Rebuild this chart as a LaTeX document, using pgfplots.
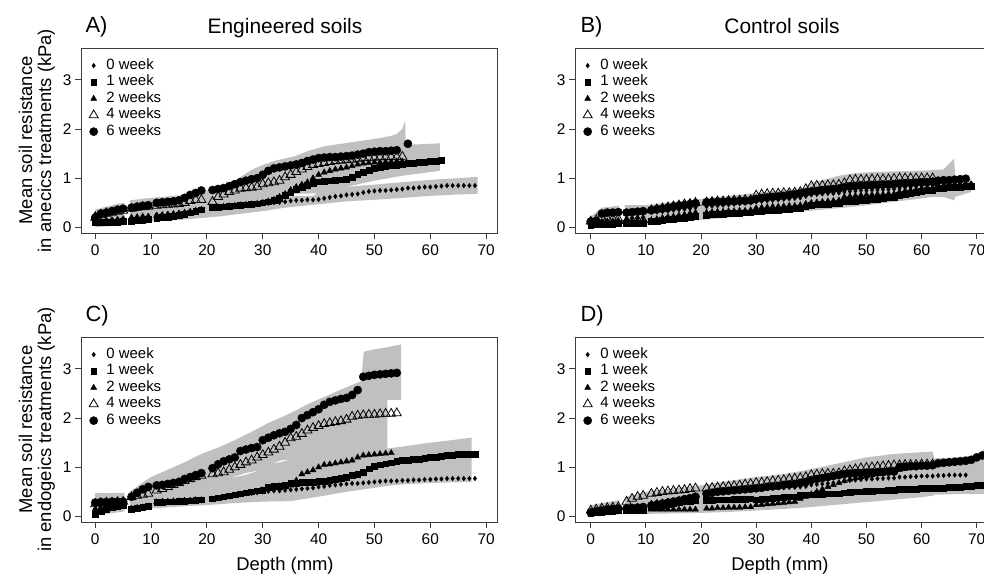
\documentclass[border=0pt]{standalone}
\usepackage{fontspec}
\setmainfont{Liberation Sans}
\usepackage{pgfplots}
\pgfplotsset{compat=1.18}
\usepackage{pgfplotstable}
\definecolor{band}{RGB}{192,192,192}
\definecolor{axcol}{RGB}{60,60,60}

\pgfplotstableread{
x w0 w1 w2 w4 w6
0 0.15 0.10 0.25 0.20 0.20
1 0.15 0.10 0.30 0.25 0.28
2 0.16 0.10 0.33 0.28 0.30
3 0.17 0.11 0.34 0.30 0.33
4 0.18 0.11 0.35 0.32 0.36
5 0.19 0.12 0.36 0.34 0.38
6.5 0.20 0.12 0.20 0.38 0.40
7.5 0.21 0.14 0.21 0.40 0.42
8.5 0.22 0.15 0.22 0.41 0.44
9.5 0.23 0.16 0.22 0.42 0.45
11 0.26 0.19 0.24 0.44 0.50
12 0.27 0.20 0.25 0.45 0.51
13 0.28 0.21 0.26 0.46 0.52
14 0.29 0.22 0.27 0.47 0.53
15 0.30 0.24 0.28 0.48 0.55
16 0.31 0.26 0.30 0.50 0.60
17 0.32 0.30 0.32 0.54 0.66
18 0.33 0.33 0.34 0.56 0.70
19 0.34 0.36 0.36 0.56 0.75
21 0.38 0.40 0.40 0.52 0.76
22 0.39 0.41 0.41 0.62 0.78
23 0.40 0.42 0.42 0.67 0.80
24 0.41 0.43 0.43 0.72 0.84
25 0.42 0.44 0.44 0.75 0.88
26 0.44 0.45 0.45 0.79 0.92
27 0.45 0.46 0.46 0.80 0.95
28 0.46 0.47 0.47 0.81 0.98
29 0.47 0.48 0.48 0.83 1.00
30 0.48 0.50 0.50 0.88 1.07
31 0.49 0.52 0.53 0.90 1.15
32 0.50 0.56 0.56 0.92 1.20
33 0.51 0.60 0.62 0.95 1.22
34 0.52 0.66 0.68 1.02 1.24
35 0.54 0.72 0.76 1.07 1.26
36 0.55 0.77 0.82 1.13 1.28
37 0.55 0.82 0.87 1.18 1.31
38 0.56 0.86 0.92 1.23 1.35
39 0.56 0.90 1.00 1.27 1.38
40 0.57 0.93 1.07 1.29 1.41
41 0.59 0.94 1.12 1.31 1.42
42 0.61 0.95 1.15 1.33 1.43
43 0.63 0.96 1.18 1.35 1.43
44 0.64 0.97 1.20 1.36 1.44
45 0.66 0.98 1.22 1.37 1.45
46 0.67 1.02 1.25 1.38 1.46
47 0.68 1.08 1.28 1.40 1.48
48 0.71 1.13 1.30 1.41 1.50
49 0.73 1.17 1.31 1.42 1.53
50 0.74 1.20 1.32 1.42 1.54
51 0.75 1.22 1.32 1.43 1.55
52 0.75 1.24 1.33 1.43 1.55
53 0.76 1.26 1.33 1.43 1.56
54 0.77 1.27 1.34 1.43 1.57
55 0.78 1.28 1.34 1.44 nan
56 0.80 1.30 nan nan 1.70
57 0.80 1.30 nan nan nan
58 0.81 1.32 nan nan nan
59 0.82 1.33 nan nan nan
60 0.82 1.34 nan nan nan
61 0.83 1.35 nan nan nan
62 0.84 1.37 nan nan nan
63 0.85 nan nan nan nan
64 0.85 nan nan nan nan
65 0.85 nan nan nan nan
66 0.85 nan nan nan nan
67 0.85 nan nan nan nan
68 0.85 nan nan nan nan
}\tabA

\pgfplotstableread{
x w0 w1 w2 w4 w6
0 0.10 0.05 0.10 0.12 0.12
1 0.10 0.06 0.10 0.15 0.13
2 0.12 0.06 0.11 0.20 0.28
3 0.13 0.07 0.12 0.18 0.30
4 0.14 0.07 0.12 0.17 0.30
5 0.15 0.08 0.13 0.17 0.31
6.5 0.17 0.08 0.10 0.13 0.30
7.5 0.18 0.08 0.11 0.14 0.31
8.5 0.19 0.09 0.12 0.15 0.32
9.5 0.20 0.09 0.13 0.15 0.33
11 0.30 0.12 0.15 0.35 0.35
12 0.31 0.13 0.17 0.37 0.37
13 0.32 0.14 0.19 0.39 0.38
14 0.33 0.16 0.21 0.41 0.40
15 0.35 0.17 0.22 0.43 0.42
16 0.36 0.18 0.24 0.45 0.44
17 0.37 0.19 0.26 0.47 0.45
18 0.38 0.21 0.28 0.48 0.47
19 0.40 0.22 0.30 0.50 0.49
21 0.42 0.25 0.30 0.51 0.51
22 0.43 0.26 0.31 0.52 0.51
23 0.44 0.26 0.32 0.53 0.52
24 0.45 0.27 0.32 0.53 0.52
25 0.46 0.28 0.33 0.54 0.53
26 0.47 0.28 0.33 0.55 0.53
27 0.48 0.29 0.34 0.55 0.54
28 0.49 0.30 0.34 0.56 0.54
29 0.50 0.30 0.35 0.56 0.55
30 0.52 0.32 0.39 0.65 0.58
31 0.53 0.33 0.40 0.67 0.60
32 0.54 0.34 0.41 0.68 0.61
33 0.55 0.35 0.42 0.69 0.62
34 0.56 0.35 0.42 0.69 0.63
35 0.57 0.36 0.43 0.70 0.64
36 0.58 0.37 0.44 0.70 0.66
37 0.59 0.38 0.44 0.71 0.67
38 0.60 0.39 0.45 0.72 0.69
39 0.63 0.42 0.48 0.78 0.71
40 0.66 0.45 0.50 0.84 0.73
41 0.67 0.46 0.51 0.85 0.74
42 0.68 0.47 0.52 0.85 0.76
43 0.69 0.47 0.53 0.86 0.77
44 0.69 0.48 0.54 0.86 0.78
45 0.70 0.49 0.55 0.87 0.79
46 0.72 0.52 0.62 0.90 0.82
47 0.73 0.53 0.63 0.96 0.83
48 0.74 0.54 0.64 0.97 0.84
49 0.75 0.55 0.65 0.97 0.85
50 0.75 0.56 0.66 0.97 0.85
51 0.76 0.57 0.66 0.98 0.86
52 0.76 0.58 0.67 0.98 0.86
53 0.77 0.60 0.67 0.98 0.87
54 0.77 0.61 0.68 0.98 0.87
55 0.78 0.62 0.68 0.99 0.88
56 0.80 0.66 0.72 1.00 0.89
57 0.81 0.68 0.74 1.00 0.90
58 0.82 0.70 0.75 1.00 0.90
59 0.83 0.72 0.76 1.00 0.91
60 0.84 0.73 0.78 1.00 0.92
61 0.85 0.75 0.79 1.00 0.92
62 0.85 0.76 0.80 1.00 0.93
63 0.87 0.79 0.83 nan 0.95
64 0.88 0.80 0.84 nan 0.96
65 0.88 0.81 0.84 nan 0.96
66 0.89 0.81 0.85 nan 0.97
67 0.89 0.82 0.85 nan 0.98
68 0.90 0.83 0.86 nan 0.99
69 0.90 0.83 0.86 nan nan
}\tabB

\pgfplotstableread{
x w0 w1 w2 w4 w6
0 0.10 0.05 0.15 0.25 0.28
1 0.15 0.10 0.17 0.27 0.29
2 0.20 0.15 0.18 0.28 0.29
3 0.22 0.18 0.19 0.28 0.30
4 0.24 0.20 0.20 0.29 0.30
5 0.25 0.22 0.20 0.30 0.30
6.5 0.18 0.15 0.15 0.39 0.40
7.5 0.19 0.17 0.17 0.42 0.48
8.5 0.20 0.18 0.18 0.44 0.55
9.5 0.21 0.20 0.20 0.46 0.60
11 0.28 0.28 0.29 0.53 0.63
12 0.29 0.29 0.30 0.56 0.64
13 0.29 0.30 0.30 0.60 0.66
14 0.30 0.30 0.31 0.64 0.68
15 0.30 0.31 0.31 0.68 0.70
16 0.31 0.31 0.32 0.72 0.76
17 0.31 0.32 0.32 0.76 0.80
18 0.32 0.33 0.33 0.80 0.84
19 0.32 0.34 0.33 0.83 0.88
21 0.35 0.36 0.34 0.86 0.98
22 0.36 0.38 0.36 0.88 1.06
23 0.38 0.40 0.38 0.90 1.12
24 0.40 0.42 0.40 0.95 1.16
25 0.42 0.44 0.42 1.00 1.20
26 0.44 0.46 0.44 1.05 1.33
27 0.46 0.48 0.46 1.10 1.36
28 0.47 0.50 0.48 1.14 1.39
29 0.48 0.52 0.50 1.20 1.41
30 0.50 0.54 0.53 1.25 1.55
31 0.51 0.60 0.57 1.30 1.60
32 0.52 0.61 0.60 1.36 1.65
33 0.52 0.62 0.61 1.42 1.69
34 0.53 0.63 0.62 1.50 1.72
35 0.54 0.68 0.63 1.59 1.78
36 0.55 0.68 0.73 1.62 1.86
37 0.56 0.69 0.86 1.68 2.00
38 0.57 0.70 0.90 1.75 2.06
39 0.58 0.70 0.94 1.80 2.12
40 0.60 0.71 1.00 1.84 2.18
41 0.61 0.72 1.05 1.88 2.27
42 0.63 0.73 1.06 1.90 2.33
43 0.64 0.76 1.08 1.92 2.36
44 0.65 0.78 1.10 1.94 2.39
45 0.66 0.80 1.12 1.97 2.41
46 0.67 0.83 1.14 2.03 2.47
47 0.67 0.86 1.20 2.05 2.57
48 0.68 0.90 1.24 2.06 2.84
49 0.69 0.97 1.25 2.07 2.86
50 0.70 1.02 1.26 2.07 2.88
51 0.71 1.05 1.27 2.08 2.89
52 0.72 1.07 1.28 2.09 2.90
53 0.72 1.09 1.29 2.09 2.91
54 0.72 1.12 nan 2.10 2.92
55 0.73 1.14 nan nan nan
56 0.73 1.15 nan nan nan
57 0.74 1.16 nan nan nan
58 0.74 1.17 nan nan nan
59 0.75 1.18 nan nan nan
60 0.75 1.20 nan nan nan
61 0.76 1.21 nan nan nan
62 0.76 1.22 nan nan nan
63 0.77 1.24 nan nan nan
64 0.77 1.25 nan nan nan
65 0.77 1.26 nan nan nan
66 0.77 1.26 nan nan nan
67 0.77 1.26 nan nan nan
68 0.77 1.26 nan nan nan
}\tabC

\pgfplotstableread{
x w0 w1 w2 w4 w6
0 0.10 0.07 0.10 0.12 0.08
1 0.11 0.08 0.11 0.14 0.10
2 0.12 0.09 0.12 0.16 0.12
3 0.13 0.10 0.14 0.17 0.14
4 0.14 0.11 0.15 0.18 0.15
5 0.15 0.12 0.16 0.19 0.16
6.5 0.17 0.12 0.15 0.30 0.16
7.5 0.18 0.12 0.15 0.36 0.17
8.5 0.18 0.13 0.15 0.40 0.18
9.5 0.19 0.13 0.15 0.42 0.19
11 0.28 0.19 0.14 0.46 0.22
12 0.30 0.21 0.14 0.48 0.24
13 0.31 0.23 0.14 0.50 0.26
14 0.33 0.25 0.14 0.51 0.28
15 0.34 0.27 0.14 0.52 0.30
16 0.36 0.28 0.14 0.53 0.32
17 0.37 0.30 0.14 0.54 0.35
18 0.38 0.31 0.14 0.56 0.37
19 0.40 0.33 0.14 0.57 0.40
21 0.44 0.33 0.16 0.57 0.46
22 0.45 0.33 0.16 0.58 0.48
23 0.47 0.34 0.17 0.59 0.50
24 0.48 0.34 0.17 0.60 0.51
25 0.50 0.34 0.18 0.61 0.52
26 0.51 0.35 0.18 0.62 0.53
27 0.52 0.35 0.18 0.63 0.54
28 0.53 0.35 0.19 0.65 0.55
29 0.54 0.36 0.19 0.66 0.56
30 0.55 0.34 0.23 0.68 0.57
31 0.56 0.35 0.24 0.69 0.58
32 0.57 0.36 0.25 0.70 0.60
33 0.57 0.37 0.26 0.72 0.61
34 0.58 0.38 0.27 0.73 0.62
35 0.58 0.39 0.28 0.74 0.64
36 0.59 0.40 0.29 0.76 0.65
37 0.59 0.40 0.30 0.77 0.66
38 0.60 0.43 0.36 0.78 0.68
39 0.61 0.44 0.40 0.80 0.70
40 0.64 0.44 0.45 0.84 0.74
41 0.65 0.45 0.50 0.85 0.76
42 0.66 0.45 0.55 0.86 0.78
43 0.67 0.46 0.60 0.87 0.80
44 0.68 0.46 0.64 0.87 0.82
45 0.69 0.46 0.68 0.88 0.84
46 0.72 0.48 0.72 0.92 0.86
47 0.73 0.49 0.75 0.94 0.87
48 0.74 0.50 0.78 0.96 0.88
49 0.75 0.50 0.80 0.98 0.88
50 0.76 0.51 0.82 0.99 0.89
51 0.76 0.51 0.84 1.00 0.89
52 0.77 0.52 0.86 1.01 0.90
53 0.77 0.52 0.88 1.02 0.90
54 0.78 0.53 0.90 1.03 0.91
55 0.78 0.53 0.92 1.04 0.91
56 0.80 0.55 0.95 1.04 1.00
57 0.80 0.55 0.97 1.05 1.01
58 0.81 0.56 0.99 1.05 1.02
59 0.81 0.56 1.00 1.05 1.02
60 0.82 0.57 1.02 1.06 1.03
61 0.82 0.57 1.03 1.06 1.03
62 0.82 0.57 1.04 1.06 1.04
63 0.83 0.58 nan nan 1.08
64 0.83 0.58 nan nan 1.09
65 0.84 0.59 nan nan 1.10
66 0.84 0.59 nan nan 1.11
67 0.84 0.60 nan nan 1.12
68 0.84 0.61 nan nan 1.13
69 nan 0.62 nan nan 1.15
70 nan 0.63 nan nan 1.20
71 nan 0.63 nan nan 1.24
}\tabD

\pgfplotsset{
  panel/.style={
    scale only axis, width=416bp, height=185bp,
    ymin=-0.115, ymax=3.65,
    xtick={0,10,...,70}, ytick={0,1,2,3},
    tick align=outside, tick pos=left,
    major tick length=6bp,
    axis line style={axcol, line width=0.9bp},
    tick style={axcol, line width=0.9bp},
    ticklabel style={font=\fontsize{15.5}{16}\selectfont, black},
    xticklabel style={yshift=-2bp},
    /pgf/number format/assume math mode=true,
    legend style={at={(0,1)}, anchor=north west, draw=none, fill=none,
      font=\fontsize{15}{16}\selectfont, inner xsep=3bp, inner ysep=10bp,
      row sep=1.6bp,
      nodes={inner sep=1.2bp, text height=10bp, text depth=2.5bp},
      /tikz/every odd column/.append style={column sep=6bp}},
    legend cell align=left,
    legend image code/.code={\path[draw=none,fill=none] (0bp,-3bp) rectangle (15bp,3bp); \path[##1] plot coordinates {(9.5bp,0bp)};},
  },
  bandfill/.style={fill=band, draw=none, forget plot},
  s0/.style={only marks, mark=diamond*, mark size=2.3bp, black},
  s1/.style={only marks, mark=square*, mark size=2.9bp, black},
  s2/.style={only marks, mark=triangle*, mark size=3.5bp, black},
  s4/.style={only marks, mark=triangle, mark size=5.2bp, black, mark options={line width=0.8bp}},
  s6/.style={only marks, mark=*, mark size=4.1bp, black},
}

\newcommand{\series}[1]{%
  \addplot[s0] table[x=x,y=w0] {#1};
  \addplot[s1] table[x=x,y=w1] {#1};
  \addplot[s2] table[x=x,y=w2] {#1};
  \addplot[s4] table[x=x,y=w4] {#1};
  \addplot[s6] table[x=x,y=w6] {#1};
  \legend{0 week, 1 week, 2 weeks, 4 weeks, 6 weeks}
}

\begin{document}
\begin{tikzpicture}
\path[use as bounding box] (0bp,0bp) rectangle (984bp,576bp);
\clip (0bp,0bp) rectangle (984bp,576bp);

% Panel A
\begin{axis}[panel, at={(81bp,343bp)}, anchor=south west, xmin=-2.55, xmax=71.95]
\addplot[bandfill] coordinates {(0,0.36)(2,0.42)(4,0.48)(5.2,0.5)(5.2,0.05)(2,0.02)(0,0.0)} -- cycle;
\addplot[bandfill] coordinates {(6.2,0.4)(20,0.5)(30,0.6)(34,0.63)(39,0.64)(40,0.7)(43,0.76)(45.6,0.83)(50,0.87)(55,0.92)(61.7,0.98)(65,1.0)(68.5,1.03)(68.5,0.68)(65,0.67)(60,0.64)(55,0.6)(50,0.56)(45,0.53)(40,0.47)(34,0.4)(30,0.33)(22,0.22)(15,0.15)(10,0.12)(6.2,0.07)} -- cycle;
\addplot[bandfill] coordinates {(6.2,0.55)(10,0.6)(16,0.66)(20,0.75)(23,0.83)(25,0.95)(28,1.17)(30,1.27)(32,1.35)(35.8,1.45)(38,1.55)(41,1.65)(44,1.7)(47,1.75)(50,1.8)(53,1.86)(54,1.9)(55,2.0)(55.5,2.18)(55.6,1.68)(58,1.69)(61.7,1.71)(61.7,1.15)(55,1.05)(50,0.95)(45.6,0.84)(43,0.72)(40,0.68)(39,0.69)(35,0.68)(34,0.66)(30,0.55)(20,0.35)(6.2,0.2)} -- cycle;
\series{\tabA}
\end{axis}

% Panel B
\begin{axis}[panel, at={(575bp,343bp)}, anchor=south west, xmin=-2.85, xmax=72.59]
\addplot[bandfill] coordinates {(0,0.22)(2,0.4)(5.2,0.44)(5.2,0.02)(0,0.0)} -- cycle;
\addplot[bandfill] coordinates {(6.2,0.45)(10,0.45)(15,0.52)(20,0.58)(25,0.64)(30,0.7)(35,0.76)(38.6,0.8)(40,0.9)(45,1.05)(47.6,1.1)(50,1.12)(55,1.14)(61.5,1.16)(64,1.18)(65.9,1.4)(66.1,1.0)(69,0.98)(69,0.72)(66.1,0.62)(65.9,0.55)(64,0.62)(62,0.62)(60,0.59)(55,0.52)(50,0.45)(45,0.39)(40,0.34)(35,0.29)(30,0.25)(25,0.2)(20,0.15)(15,0.1)(10,0.05)(6.2,0.03)} -- cycle;
\series{\tabB}
\end{axis}

% Panel C
\begin{axis}[panel, at={(81bp,54bp)}, anchor=south west, xmin=-2.55, xmax=71.95]
\addplot[bandfill] coordinates {(0,0.47)(5.2,0.48)(5.2,0.1)(0,0.02)} -- cycle;
\addplot[bandfill] coordinates {(6.2,0.5)(8,0.65)(10,0.8)(13,0.95)(16,1.1)(19,1.27)(22,1.4)(25,1.55)(28,1.72)(31,1.9)(34,2.05)(36,2.16)(38,2.28)(41,2.43)(44,2.58)(47.6,2.75)(48.1,3.35)(50,3.4)(52.3,3.44)(52.3,0.62)(50,0.58)(45,0.5)(40,0.4)(35,0.31)(30,0.3)(25,0.27)(20,0.23)(15,0.2)(10,0.16)(6.2,0.12)} -- cycle;
\addplot[bandfill] coordinates {(52.2,3.44)(54.8,3.5)(54.8,2.37)(52.2,2.37)} -- cycle;
\addplot[bandfill] coordinates {(52.2,1.38)(55,1.42)(60,1.5)(67.4,1.6)(67.4,0.7)(60,0.68)(55,0.65)(52.2,0.62)} -- cycle;
\addplot[fill=white, draw=none, forget plot] coordinates {(24.5,0.79)(26.8,0.84)(29.2,0.93)(26.8,0.875)} -- cycle;
\addplot[fill=white, draw=none, forget plot] coordinates {(32,1.08)(33.4,1.11)(34.6,1.15)(33.2,1.135)} -- cycle;
\series{\tabC}
\end{axis}

% Panel D
\begin{axis}[panel, at={(575bp,54bp)}, anchor=south west, xmin=-2.85, xmax=72.59]
\addplot[bandfill] coordinates {(0,0.23)(2.5,0.28)(5.2,0.33)(5.2,0.04)(0,-0.01)} -- cycle;
\addplot[bandfill] coordinates {(6.2,0.39)(10,0.5)(15,0.57)(20,0.63)(25,0.72)(30,0.8)(35,0.86)(39,0.94)(45,1.08)(50,1.2)(55,1.27)(62,1.32)(62.3,1.18)(66,1.2)(70,1.25)(71,1.32)(72,1.5)(72,0.45)(69,0.46)(62.3,0.44)(62,0.42)(60,0.39)(55,0.34)(50,0.29)(45,0.24)(40,0.19)(35,0.15)(30,0.12)(25,0.09)(20,0.07)(15,0.06)(10,0.05)(6.2,0.05)} -- cycle;
\series{\tabD}
\end{axis}

% Titles and labels
\node[anchor=base west, font=\fontsize{22}{24}\selectfont] at (82bp,543bp) {A)};
\node[anchor=base, font=\fontsize{21}{24}\selectfont] at (285bp,542bp) {Engineered soils};
\node[anchor=base west, font=\fontsize{22}{24}\selectfont] at (577bp,543bp) {B)};
\node[anchor=base, font=\fontsize{21}{24}\selectfont] at (782bp,542bp) {Control soils};
\node[anchor=base west, font=\fontsize{22}{24}\selectfont] at (82bp,254bp) {C)};
\node[anchor=base west, font=\fontsize{22}{24}\selectfont] at (577bp,254bp) {D)};
\node[anchor=base, font=\fontsize{18.5}{20}\selectfont] at (285bp,6bp) {Depth (mm)};
\node[anchor=base, font=\fontsize{18.5}{20}\selectfont] at (780bp,6bp) {Depth (mm)};
\node[anchor=base, rotate=90, font=\fontsize{18.5}{20}\selectfont] at (32bp,435.5bp) {Mean soil resistance};
\node[anchor=base, rotate=90, font=\fontsize{18.5}{20}\selectfont] at (51bp,435.5bp) {in anecics treatments (kPa)};
\node[anchor=base, rotate=90, font=\fontsize{18.5}{20}\selectfont] at (32bp,146.5bp) {Mean soil resistance};
\node[anchor=base, rotate=90, font=\fontsize{18.5}{20}\selectfont] at (51bp,146.5bp) {in endogeics treatments (kPa)};
\end{tikzpicture}
\end{document}
